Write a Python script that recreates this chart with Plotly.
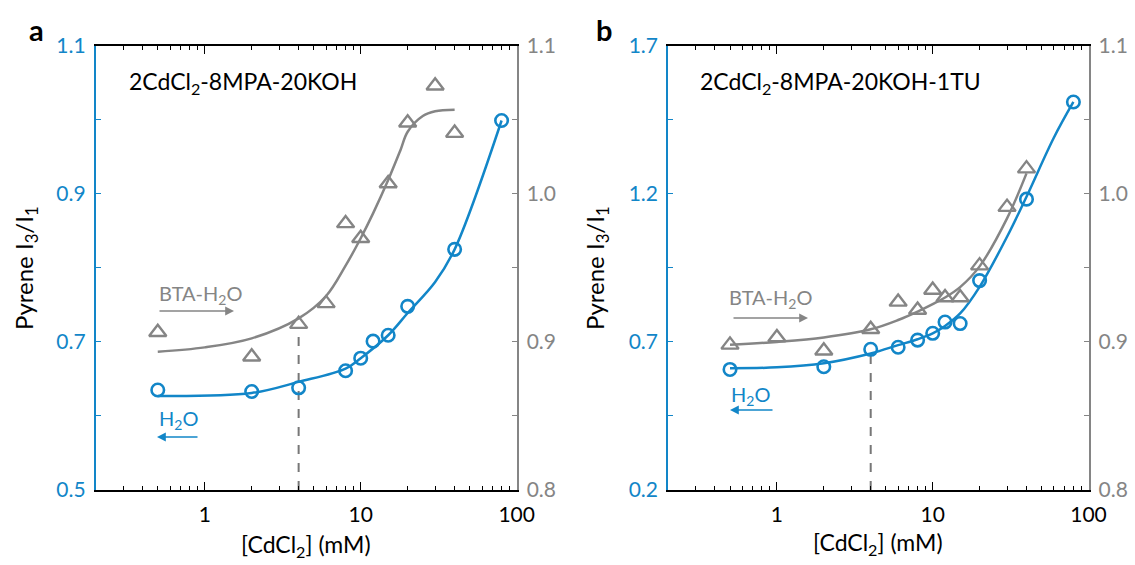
import plotly.graph_objects as go

W, H = 1135, 565
BLUE = "#1286C8"
GRAY = "#858585"
FONT = "Lato"

# ---------------- data: panel a ----------------
a_conc_h2o = [0.5, 2, 4, 8, 10, 12, 15, 20, 40, 80]
a_ratio_h2o = [0.635, 0.633, 0.638, 0.661, 0.678, 0.701, 0.709, 0.748, 0.825, 0.999]
a_conc_bta = [0.5, 2, 4, 6, 8, 10, 15, 20, 30, 40]
a_ratio_bta = [0.9065, 0.890, 0.912, 0.926, 0.980, 0.970, 1.007, 1.048, 1.073, 1.041]
a_fit_h2o_x = [0.5, 2, 4, 8, 10, 15, 20, 30, 40, 80]
a_fit_h2o_y = [0.627, 0.631, 0.646, 0.664, 0.678, 0.709, 0.739, 0.781, 0.825, 0.999]
a_fit_bta_x = [0.5, 1, 2, 4, 6, 8, 10, 12, 15, 18, 20, 25, 30, 40]
a_fit_bta_y = [0.8934, 0.8963, 0.9024, 0.9159, 0.9310, 0.9515, 0.9700, 0.9868, 1.0093,
               1.0296, 1.0419, 1.0525, 1.0557, 1.0568]
a_cmc_x = [4, 4]
a_cmc_y = [0.5, 0.72]

# ---------------- data: panel b ----------------
b_conc_h2o = [0.5, 2, 4, 6, 8, 10, 12, 15, 20, 40, 80]
b_ratio_h2o = [0.607, 0.616, 0.675, 0.682, 0.706, 0.729, 0.767, 0.762, 0.907, 1.182, 1.510]
b_conc_bta = [0.5, 1, 2, 4, 6, 8, 10, 12, 15, 20, 30, 40]
b_ratio_bta = [0.898, 0.903, 0.894, 0.9085, 0.927, 0.9215, 0.935, 0.930, 0.930, 0.9515, 0.991, 1.017]
b_fit_h2o_x = [0.5, 1, 2, 4, 6, 8, 10, 12, 15, 20, 30, 40, 60, 80]
b_fit_h2o_y = [0.611, 0.614, 0.628, 0.661, 0.689, 0.709, 0.729, 0.754, 0.796, 0.886, 1.055, 1.190, 1.390, 1.510]
b_fit_bta_x = [0.5, 1, 2, 4, 6, 8, 10, 12, 15, 20, 30, 40]
b_fit_bta_y = [0.898, 0.900, 0.903, 0.9085, 0.9148, 0.9205, 0.9255, 0.930, 0.937, 0.951, 0.9834, 1.0138]
b_cmc_x = [4, 4]
b_cmc_y = [0.2, 0.661]

# tick labels
x_tickvals = [1, 10, 100]
x_ticktext = ["1", "10", "100"]
x_minor = [0.2, 0.3, 0.4, 0.5, 0.6, 0.7, 0.8, 0.9, 2, 3, 4, 5, 6, 7, 8, 9, 20, 30, 40, 50, 60, 70, 80, 90]
a_left_vals = [0.5, 0.6, 0.7, 0.8, 0.9, 1.0, 1.1]
a_left_text = ["0.5", "", "0.7", "", "0.9", "", "1.1"]
b_left_vals = [0.2, 0.45, 0.7, 0.95, 1.2, 1.45, 1.7]
b_left_text = ["0.2", "", "0.7", "", "1.2", "", "1.7"]
right_vals = [0.8, 0.85, 0.9, 0.95, 1.0, 1.05, 1.1]
right_text = ["0.8", "", "0.9", "", "1.0", "", "1.1"]

fig = go.Figure()


def add_panel(xa, yl, yr, c_h2o, r_h2o, c_bta, r_bta, fx_h, fy_h, fx_b, fy_b, cx, cy):
    fig.add_trace(go.Scatter(x=cx, y=cy, mode="lines", xaxis=xa, yaxis=yl,
                             line=dict(color="#777777", width=2, dash="dash"), hoverinfo="skip"))
    fig.add_trace(go.Scatter(x=fx_b, y=fy_b, mode="lines", xaxis=xa, yaxis=yr,
                             line=dict(color=GRAY, width=2.5, shape="spline", smoothing=1)))
    fig.add_trace(go.Scatter(x=c_bta, y=r_bta, mode="markers", xaxis=xa, yaxis=yr,
                             marker=dict(symbol="triangle-up-open", size=15, color=GRAY,
                                         line=dict(width=2.4, color=GRAY))))
    fig.add_trace(go.Scatter(x=fx_h, y=fy_h, mode="lines", xaxis=xa, yaxis=yl,
                             line=dict(color=BLUE, width=2.5, shape="spline", smoothing=1)))
    fig.add_trace(go.Scatter(x=c_h2o, y=r_h2o, mode="markers", xaxis=xa, yaxis=yl,
                             marker=dict(symbol="circle-open", size=12.5, color=BLUE,
                                         line=dict(width=2.6, color=BLUE))))


add_panel("x", "y", "y2", a_conc_h2o, a_ratio_h2o, a_conc_bta, a_ratio_bta,
          a_fit_h2o_x, a_fit_h2o_y, a_fit_bta_x, a_fit_bta_y, a_cmc_x, a_cmc_y)
add_panel("x2", "y3", "y4", b_conc_h2o, b_ratio_h2o, b_conc_bta, b_ratio_bta,
          b_fit_h2o_x, b_fit_h2o_y, b_fit_bta_x, b_fit_bta_y, b_cmc_x, b_cmc_y)

ydom = [75 / H, 519.3 / H]
xdom_a = [95.7 / W, 516.7 / W]
xdom_b = [668 / W, 1088.5 / W]


def xaxis_cfg(dom, anchor):
    return dict(domain=dom, anchor=anchor, type="log", range=[-0.69897, 2], automargin=False,
                tickvals=x_tickvals, ticktext=x_ticktext, ticks="inside", ticklen=8,
                tickwidth=1.3, tickcolor="black", showline=True, linecolor="black",
                linewidth=1.6, mirror="ticks", showgrid=False, zeroline=False,
                tickfont=dict(family=FONT, size=21, color="black"), ticklabelstandoff=5,
                minor=dict(tickvals=x_minor, ticks="inside", ticklen=4, tickwidth=1.2,
                           tickcolor="black", showgrid=False))


def yleft_cfg(rng, vals, text, anchor):
    return dict(domain=ydom, anchor=anchor, range=rng, tickvals=vals, ticktext=text,
                automargin=False,
                ticks="inside", ticklen=5, tickwidth=1.3, tickcolor=BLUE, showline=True,
                linecolor=BLUE, linewidth=1.6, showgrid=False, zeroline=False,
                tickfont=dict(family=FONT, size=21, color=BLUE), ticklabelstandoff=4)


def yright_cfg(over, anchor):
    return dict(domain=ydom, anchor=anchor, overlaying=over, side="right", range=[0.8, 1.1],
                automargin=False,
                tickvals=right_vals, ticktext=right_text, ticks="inside", ticklen=5,
                tickwidth=1.3, tickcolor=GRAY, showline=True, linecolor=GRAY, linewidth=1.6,
                showgrid=False, zeroline=False,
                tickfont=dict(family=FONT, size=21, color=GRAY), ticklabelstandoff=4)


fig.update_layout(
    width=W, height=H, margin=dict(l=0, r=0, t=0, b=0, autoexpand=False),
    paper_bgcolor="white", plot_bgcolor="white", showlegend=False,
    font=dict(family=FONT),
    xaxis=xaxis_cfg(xdom_a, "y"),
    yaxis=yleft_cfg([0.5, 1.1], a_left_vals, a_left_text, "x"),
    yaxis2=yright_cfg("y", "x"),
    xaxis2=xaxis_cfg(xdom_b, "y3"),
    yaxis3=yleft_cfg([0.2, 1.7], b_left_vals, b_left_text, "x2"),
    yaxis4=yright_cfg("y3", "x2"),
)


def px(x, y):
    return x / W, 1 - y / H


annots = []


def text(x, y, t, size, color, xanchor="left", bold=False, angle=0):
    xx, yy = px(x, y)
    annots.append(dict(x=xx, y=yy, xref="paper", yref="paper", text=("<b>%s</b>" % t) if bold else t,
                       showarrow=False, xanchor=xanchor, yanchor="middle", textangle=angle,
                       font=dict(family=FONT, size=size, color=color)))


def arrow(x0, x1, y, color):
    xx1, yy = px(x1, y)
    annots.append(dict(x=xx1, y=yy, xref="paper", yref="paper", ax=x0 - x1, ay=0,
                       axref="pixel", ayref="pixel", text="", showarrow=True,
                       arrowhead=2, arrowsize=1.1, arrowwidth=1.6, arrowcolor=color))


# panel letters
text(36, 29, "a", 29, "black", xanchor="center", bold=True)
text(604, 29, "b", 29, "black", xanchor="center", bold=True)
# sample names
text(127, 83, "2CdCl<sub>2</sub>-8MPA-20KOH", 23, "black")
text(698, 83, "2CdCl<sub>2</sub>-8MPA-20KOH-1TU", 23, "black")
# series labels
text(157, 294, "BTA-H<sub>2</sub>O", 20, GRAY)
arrow(158, 234, 311, GRAY)
text(157, 419, "H<sub>2</sub>O", 20, BLUE)
arrow(199, 157, 437, BLUE)
text(727, 298, "BTA-H<sub>2</sub>O", 20, GRAY)
arrow(732, 808, 318, GRAY)
text(729, 395, "H<sub>2</sub>O", 20, BLUE)
arrow(774, 730, 410, BLUE)
# axis titles
text(26, 268, "Pyrene I<sub>3</sub>/I<sub>1</sub>", 24, "black", xanchor="center", angle=-90)
text(597, 268, "Pyrene I<sub>3</sub>/I<sub>1</sub>", 24, "black", xanchor="center", angle=-90)
text(306, 545, "[CdCl<sub>2</sub>] (mM)", 23, "black", xanchor="center")
text(878, 543, "[CdCl<sub>2</sub>] (mM)", 23, "black", xanchor="center")

fig.update_layout(annotations=annots)
fig.write_html("out.html")
